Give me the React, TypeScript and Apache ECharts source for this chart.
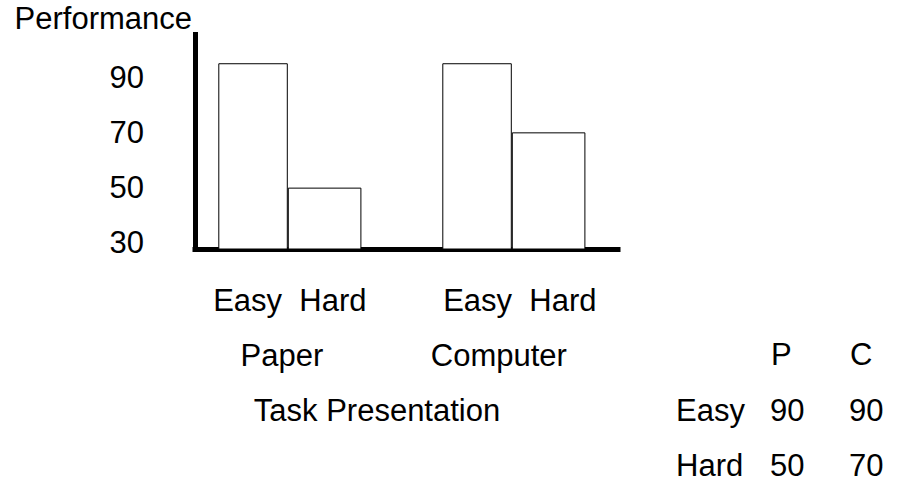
import React, { useEffect, useRef } from "react";
import * as echarts from "echarts";

const groups = ["Paper", "Computer"];
const levels = ["Easy", "Hard"];
const easyBars = [95, 95];
const hardBars = [50, 70];
const yTicks = [30, 50, 70, 90];
const tableCols = ["P", "C"];
const tableRows = ["Easy", "Hard"];
const tableEasy = [90, 90];
const tableHard = [50, 70];

const FONT = "'Liberation Sans', Arial, Helvetica, sans-serif";
const FS = 31;

export default function App() {
  const ref = useRef<HTMLDivElement>(null);
  useEffect(() => {
    const chart = echarts.init(ref.current!, null, { renderer: "svg" });
    const yMin = 27.8;
    const yMax = 105.4;
    const txt = { fontFamily: FONT, fontSize: FS, color: "#000" };
    const axisLineStyle = { color: "#000", width: 5, cap: "square" };

    const colX = [770, 849];
    const headerY = 354;
    const rowY = [410, 465];
    const tableValues = [tableEasy, tableHard];
    const cell = (text: string, x: number, y: number) => ({
      type: "text",
      x,
      y,
      style: {
        text,
        fontFamily: FONT,
        fontSize: FS,
        fill: "#000",
        align: "left",
        verticalAlign: "middle",
      },
    });
    const graphics: any[] = [];
    tableCols.forEach((c, i) => graphics.push(cell(c, colX[i] + 1, headerY)));
    tableRows.forEach((r, j) => {
      graphics.push(cell(r, 676, rowY[j]));
      tableValues[j].forEach((v, i) => graphics.push(cell(String(v), colX[i], rowY[j])));
    });

    const richBase = { fontFamily: FONT, fontSize: FS, color: "#000", lineHeight: 55 };

    chart.setOption({
      animation: false,
      backgroundColor: "#fff",
      grid: [
        { left: 195, right: 283, top: 34.5, bottom: 232 },
        { left: 177.85, right: 275.15, top: 34.5, bottom: 232 },
      ],
      xAxis: [
        {
          gridIndex: 0,
          type: "value",
          min: 0,
          max: 1,
          axisLine: { show: true, onZero: false, lineStyle: axisLineStyle },
          axisTick: { show: false },
          axisLabel: { show: false },
          splitLine: { show: false },
          name: "Task Presentation",
          nameLocation: "middle",
          nameGap: 161,
          nameTextStyle: { ...txt, verticalAlign: "middle", padding: [0, 59, 0, 0] },
        },
        {
          gridIndex: 1,
          type: "category",
          data: groups,
          axisLine: { show: false },
          axisTick: { show: false },
          splitLine: { show: false },
          axisLabel: {
            interval: 0,
            margin: 23.5,
            formatter: (v: string, i: number) =>
              i === 0
                ? `{s0|${levels.join("  ")}}\n{g0|${v}}`
                : `{s1|${levels.join("  ")}}\n{g1|${v}}`,
            rich: {
              s0: { ...richBase },
              s1: { ...richBase, padding: [0, 0, 0, 12] },
              g0: { ...richBase, padding: [0, 16, 0, 0] },
              g1: { ...richBase, padding: [0, 30, 0, 0] },
            },
          },
        },
      ],
      yAxis: [
        {
          gridIndex: 0,
          type: "value",
          min: yMin,
          max: yMax,
          axisLine: { show: true, onZero: false, lineStyle: axisLineStyle },
          axisTick: { show: false },
          splitLine: { show: false },
          axisLabel: { ...txt, margin: 51, customValues: yTicks },
          name: "Performance",
          nameLocation: "end",
          nameGap: 16.5,
          nameTextStyle: { ...txt, align: "right", verticalAlign: "middle", padding: [0, 3, 0, 0] },
        },
        {
          gridIndex: 1,
          type: "value",
          min: yMin,
          max: yMax,
          show: false,
          splitLine: { show: false },
        },
      ],
      series: [
        {
          type: "bar",
          name: levels[0],
          xAxisIndex: 1,
          yAxisIndex: 1,
          data: easyBars,
          barWidth: 69.5,
          barGap: "0%",
          itemStyle: { color: "#fff", borderColor: "#000", borderWidth: 1 },
        },
        {
          type: "bar",
          name: levels[1],
          xAxisIndex: 1,
          yAxisIndex: 1,
          data: hardBars,
          barWidth: 73.6,
          barGap: "0%",
          itemStyle: { color: "#fff", borderColor: "#000", borderWidth: 1 },
        },
      ],
      graphic: graphics,
    });
    return () => chart.dispose();
  }, []);
  return (
    <div
      ref={ref}
      style={{ position: "fixed", left: 0, top: 0, width: 901, height: 481 }}
    />
  );
}
